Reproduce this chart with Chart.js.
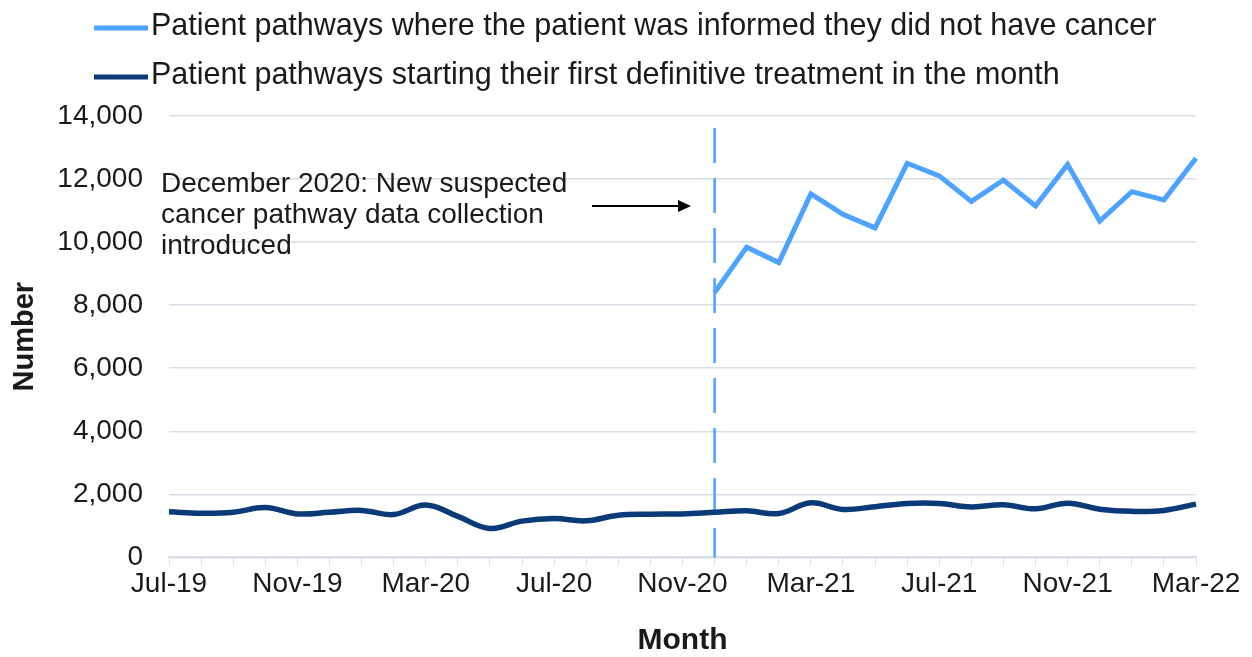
<!DOCTYPE html>
<html>
<head>
<meta charset="utf-8">
<script src="https://cdn.jsdelivr.net/npm/chart.js@4/dist/chart.umd.min.js"></script>
<style>
  html, body { margin: 0; padding: 0; background: #fff; }
  #wrap { width: 1252px; height: 657px; }
</style>
</head>
<body>
<div id="wrap"><canvas id="chart"></canvas></div>
<script>
const months = [
  'Jul-19', 'Aug-19', 'Sep-19', 'Oct-19', 'Nov-19', 'Dec-19',
  'Jan-20', 'Feb-20', 'Mar-20', 'Apr-20', 'May-20', 'Jun-20',
  'Jul-20', 'Aug-20', 'Sep-20', 'Oct-20', 'Nov-20', 'Dec-20',
  'Jan-21', 'Feb-21', 'Mar-21', 'Apr-21', 'May-21', 'Jun-21',
  'Jul-21', 'Aug-21', 'Sep-21', 'Oct-21', 'Nov-21', 'Dec-21',
  'Jan-22', 'Feb-22', 'Mar-22'
]

const notCancer = [
  null, null, null, null, null, null,
  null, null, null, null, null, null,
  null, null, null, null, null, 8400,
  9840, 9350, 11530, 10880, 10450, 12500,
  12100, 11290, 11970, 11150, 12460, 10670,
  11600, 11340, 12660
]

const firstTreatment = [
  1450, 1400, 1430, 1580, 1380, 1430,
  1490, 1360, 1660, 1300, 920, 1150,
  1230, 1160, 1340, 1370, 1380, 1430,
  1480, 1390, 1730, 1520, 1610, 1710,
  1710, 1600, 1670, 1540, 1720, 1530,
  1460, 1490, 1690
]

const yTicks = [0, 2000, 4000, 6000, 8000, 10000, 12000, 14000]

const seriesNames = [
  'Patient pathways where the patient was informed they did not have cancer',
  'Patient pathways starting their first definitive treatment in the month'
]

const noteLines = [
  'December 2020: New suspected',
  'cancer pathway data collection',
  'introduced'
]
const noteMonth = 'Dec-20'

const lightBlue = '#4da3ff'
const navy = '#0b3a78'
const textColor = '#1a1a1a'
const font = '"Liberation Sans", Arial, sans-serif'

const decor = {
  id: 'decor',
  beforeDatasetsDraw(chart) {
    const { ctx, chartArea, scales } = chart
    const x = scales.x.getPixelForValue(months.indexOf(noteMonth))
    ctx.save()
    ctx.strokeStyle = lightBlue
    ctx.lineWidth = 2.5
    ctx.setLineDash([35, 15])
    ctx.beginPath()
    ctx.moveTo(x, chartArea.top + 12)
    ctx.lineTo(x, chartArea.bottom)
    ctx.stroke()
    ctx.restore()
  },
  afterDraw(chart) {
    const { ctx } = chart
    ctx.save()
    // legend
    const colors = [lightBlue, navy]
    seriesNames.forEach((name, i) => {
      const y = 28 + i * 49
      ctx.strokeStyle = colors[i]
      ctx.lineWidth = 5
      ctx.beginPath()
      ctx.moveTo(94, y)
      ctx.lineTo(148, y)
      ctx.stroke()
      ctx.fillStyle = textColor
      ctx.font = '30.5px ' + font
      ctx.textBaseline = 'middle'
      ctx.fillText(name, 151, y - 1)
    })
    // annotation
    ctx.font = '28px ' + font
    ctx.fillStyle = textColor
    noteLines.forEach((line, i) => {
      ctx.fillText(line, 161, 184 + i * 31)
    })
    ctx.strokeStyle = '#000'
    ctx.lineWidth = 2
    ctx.beginPath()
    ctx.moveTo(592, 206)
    ctx.lineTo(680, 206)
    ctx.stroke()
    ctx.fillStyle = '#000'
    ctx.beginPath()
    ctx.moveTo(691, 206)
    ctx.lineTo(678, 200)
    ctx.lineTo(678, 212)
    ctx.closePath()
    ctx.fill()
    ctx.restore()
  }
}

new Chart(document.getElementById('chart'), {
  type: 'line',
  data: {
    labels: months,
    datasets: [{
      label: seriesNames[0],
      data: notCancer,
      borderColor: lightBlue,
      borderWidth: 5,
      pointRadius: 0,
      tension: 0,
      spanGaps: false
    }, {
      label: seriesNames[1],
      data: firstTreatment,
      borderColor: navy,
      borderWidth: 5.5,
      pointRadius: 0,
      tension: 0.4
    }]
  },
  options: {
    responsive: true,
    maintainAspectRatio: false,
    animation: false,
    layout: {
      padding: { top: 116, right: 56, left: 8, bottom: 0 }
    },
    plugins: {
      legend: { display: false },
      tooltip: { enabled: false }
    },
    scales: {
      x: {
        grid: {
          drawOnChartArea: false,
          drawTicks: true,
          tickLength: 8,
          color: '#d9dee9'
        },
        border: { color: '#d9dee9', width: 2 },
        ticks: {
          autoSkip: false,
          maxRotation: 0,
          padding: 2,
          color: textColor,
          font: { family: font, size: 28 },
          callback: (value, index) => index % 4 === 0 ? months[index] : ''
        },
        title: {
          display: true,
          text: 'Month',
          color: textColor,
          font: { family: font, size: 30, weight: 'bold', lineHeight: 1 },
          padding: { top: 23, bottom: 1 }
        }
      },
      y: {
        min: 0,
        max: 14000,
        afterBuildTicks: (axis) => {
          axis.ticks = yTicks.map((v) => ({ value: v }))
        },
        afterFit: (axis) => {
          axis.width = 161
        },
        grid: {
          drawTicks: false,
          color: '#d9dee9',
          lineWidth: 1.5
        },
        border: { display: false },
        ticks: {
          padding: 26,
          color: textColor,
          font: { family: font, size: 28 },
          callback: (value) => value.toLocaleString('en-GB')
        },
        title: {
          display: true,
          text: 'Number',
          color: textColor,
          font: { family: font, size: 29, weight: 'bold' },
          padding: 0
        }
      }
    }
  },
  plugins: [decor]
})
</script>
</body>
</html>
